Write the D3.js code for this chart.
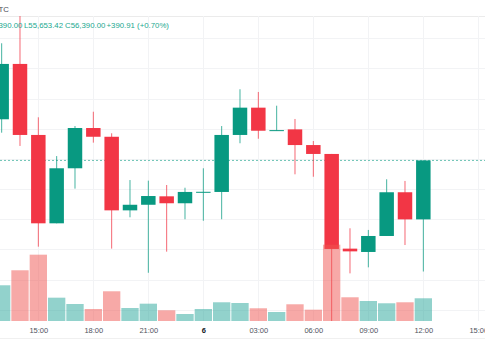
<!DOCTYPE html>
<html>
<head>
<meta charset="utf-8">
<script src="https://cdn.jsdelivr.net/npm/d3@7"></script>
<style>
  html, body { margin: 0; padding: 0; background: #ffffff; }
  svg { display: block; }
  text { font-family: "Liberation Sans", Arial, sans-serif; }
</style>
</head>
<body>
<svg id="chart" width="485" height="360"></svg>
<script>
// ---- data (1h candles, BTC) ----
const times = [
  "2024-09-05T13:00Z","2024-09-05T14:00Z","2024-09-05T15:00Z","2024-09-05T16:00Z",
  "2024-09-05T17:00Z","2024-09-05T18:00Z","2024-09-05T19:00Z","2024-09-05T20:00Z",
  "2024-09-05T21:00Z","2024-09-05T22:00Z","2024-09-05T23:00Z","2024-09-06T00:00Z",
  "2024-09-06T01:00Z","2024-09-06T02:00Z","2024-09-06T03:00Z","2024-09-06T04:00Z",
  "2024-09-06T05:00Z","2024-09-06T06:00Z","2024-09-06T07:00Z","2024-09-06T08:00Z",
  "2024-09-06T09:00Z","2024-09-06T10:00Z","2024-09-06T11:00Z","2024-09-06T12:00Z"
];
const opens  = [56663, 57030, 56559, 55973, 56338, 56605, 56547, 56059, 56096, 56152, 56106, 56179,
                56181, 56559, 56740, 56588, 56596, 56492, 56433, 55805, 55783, 55889, 56179, 55999.09];
const highs  = [57167, 57390, 56676, 56419, 56618, 56713, 56570, 56260, 56256, 56227, 56209, 56338,
                56618, 56862, 56844, 56753, 56665, 56519, 56433, 55940, 55929, 56265, 56254, 56390.00];
const lows   = [56574, 56486, 55818, 55973, 56203, 56508, 55805, 56013, 55645, 55785, 56000, 55990,
                56000, 56504, 56534, 56588, 56298, 56282, 55290, 55641, 55681, 55889, 55829, 55653.42];
const closes = [57030, 56559, 55973, 56338, 56605, 56547, 56059, 56096, 56154, 56106, 56181, 56182,
                56559, 56740, 56587, 56591, 56492, 56433, 55803, 55787, 55889, 56179, 55999.09, 56390.00];
const volumes = [893, 1268, 1658, 583, 425, 300, 743, 325, 433, 268, 175, 300,
                 468, 450, 318, 225, 418, 283, 1908, 593, 500, 443, 468, 568];
const tickTimes = [
  "2024-09-05T15:00Z","2024-09-05T18:00Z","2024-09-05T21:00Z","2024-09-06T00:00Z",
  "2024-09-06T03:00Z","2024-09-06T06:00Z","2024-09-06T09:00Z","2024-09-06T12:00Z","2024-09-06T15:00Z"
];
const legendParts = ["390.00", "L55,653.42", "C56,390.00", "+390.91 (+0.70%)"];
const symbolLabel = "BTC";
const lastPrice = 56390.00;

// ---- layout ----
const W = 485, H = 360;
const paneTop = 16, paneBottom = 321;
const UP = "#089981", DOWN = "#f23645";
const VOL_UP = "rgba(38,166,154,0.5)", VOL_DOWN = "rgba(239,83,80,0.5)";

const svg = d3.select("#chart");
const parse = d => new Date(d);

const x = d3.scaleUtc()
  .domain([parse("2024-09-05T15:00Z"), parse("2024-09-06T15:00Z")])
  .range([38.33, 478.33]);
const step = x(parse("2024-09-05T16:00Z")) - x(parse("2024-09-05T15:00Z"));
const y = d3.scaleLinear().domain([55800, 57200]).range([249.4, 38.3]);
const v = d3.scaleLinear().domain([0, 2000]).range([paneBottom, paneBottom - 80]);

const data = times.map((t, i) => ({
  t: parse(t), o: opens[i], h: highs[i], l: lows[i], c: closes[i], vol: volumes[i]
}));

svg.append("defs").append("clipPath").attr("id", "pane")
  .append("rect").attr("x", 0).attr("y", paneTop).attr("width", W).attr("height", paneBottom - paneTop);

// top separator
svg.append("line").attr("x1", 0).attr("x2", W).attr("y1", paneTop + 0.5).attr("y2", paneTop + 0.5)
  .attr("stroke", "#ebebeb");

const pane = svg.append("g").attr("clip-path", "url(#pane)");

// grid
const gridPrices = d3.range(55400, 57601, 200);
pane.append("g").selectAll("line").data(gridPrices).join("line")
  .attr("x1", 0).attr("x2", W)
  .attr("y1", d => Math.round(y(d)) + 0.5).attr("y2", d => Math.round(y(d)) + 0.5)
  .attr("stroke", "#f2f3f5");
pane.append("g").selectAll("line").data(tickTimes).join("line")
  .attr("y1", paneTop).attr("y2", paneBottom)
  .attr("x1", d => Math.round(x(parse(d))) + 0.5).attr("x2", d => Math.round(x(parse(d))) + 0.5)
  .attr("stroke", "#f2f3f5");

// last price line
pane.append("line").attr("x1", 0).attr("x2", W)
  .attr("y1", y(lastPrice)).attr("y2", y(lastPrice))
  .attr("stroke", UP).attr("stroke-opacity", 0.6).attr("stroke-dasharray", "2,2");

// candles
const bodyW = step * 0.79;
const candles = pane.append("g").selectAll("g").data(data).join("g");
candles.append("line")
  .attr("x1", d => x(d.t)).attr("x2", d => x(d.t))
  .attr("y1", d => y(d.h)).attr("y2", d => y(d.l))
  .attr("stroke", d => d.c >= d.o ? UP : DOWN)
  .attr("stroke-opacity", 0.75)
  .attr("stroke-width", 1);
candles.append("rect")
  .attr("x", d => x(d.t) - bodyW / 2)
  .attr("width", bodyW)
  .attr("y", d => y(Math.max(d.o, d.c)))
  .attr("height", d => Math.max(1, Math.abs(y(d.o) - y(d.c))))
  .attr("fill", d => d.c >= d.o ? UP : DOWN);

// volume (overlay)
pane.append("g").selectAll("rect").data(data).join("rect")
  .attr("x", d => x(d.t) - step / 2 + 0.5)
  .attr("width", step - 1)
  .attr("y", d => v(d.vol))
  .attr("height", d => paneBottom - v(d.vol))
  .attr("fill", d => d.c >= d.o ? VOL_UP : VOL_DOWN);

// x axis
const xAxis = d3.axisBottom(x)
  .tickValues(tickTimes.map(parse))
  .tickSize(0)
  .tickPadding(0)
  .tickFormat(d => d.getUTCHours() === 0 ? String(d.getUTCDate()) : d3.utcFormat("%H:%M")(d));
const ax = svg.append("g").attr("transform", `translate(0,${paneBottom})`).call(xAxis);
ax.select(".domain").remove();
ax.selectAll("text")
  .attr("y", 11.5).attr("dy", 0)
  .attr("font-size", 7.5)
  .attr("fill", d => d.getUTCHours() === 0 ? "#131722" : "#50535e")
  .attr("font-weight", d => d.getUTCHours() === 0 ? "bold" : "normal")
  .attr("font-family", "'Liberation Sans', Arial, sans-serif");

svg.append("line").attr("x1", 0).attr("x2", W).attr("y1", 338.5).attr("y2", 338.5)
  .attr("stroke", "#f0f0f0");

// header / legend
svg.append("text").attr("x", 9).attr("y", 12.3).attr("text-anchor", "end")
  .attr("font-size", 7.8).attr("fill", "#4a4d57").text(symbolLabel);
const legendX = [-1.5, 24, 65, 106.5];
svg.append("g").selectAll("text").data(legendParts).join("text")
  .attr("x", (d, i) => legendX[i]).attr("y", 28.3)
  .attr("font-size", 7.8).attr("fill", "#22a88f")
  .text(d => d);
</script>
</body>
</html>
